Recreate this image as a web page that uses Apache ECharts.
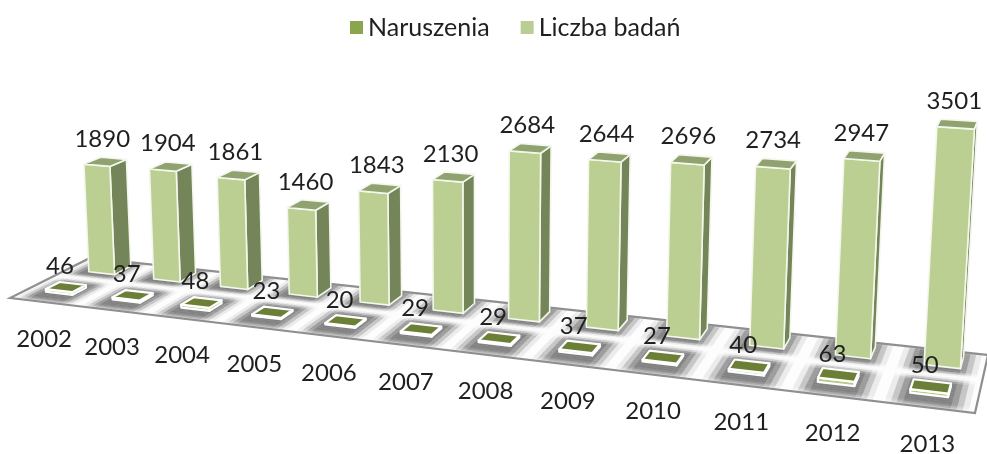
<!DOCTYPE html>
<html>
<head>
<meta charset="utf-8">
<style>
  html, body { margin: 0; padding: 0; background: #fff; }
  #chart { width: 987px; height: 454px; filter: blur(0.4px); }
</style>
</head>
<body>
<div id="chart"></div>
<script src="https://cdn.jsdelivr.net/npm/echarts@6/dist/echarts.min.js"></script>
<script>
const years = ['2002', '2003', '2004', '2005', '2006', '2007', '2008', '2009', '2010', '2011', '2012', '2013']
const naruszenia = [46, 37, 48, 23, 20, 29, 29, 37, 27, 40, 63, 50]
const liczbaBadan = [1890, 1904, 1861, 1460, 1843, 2130, 2684, 2644, 2696, 2734, 2947, 3501]

const W = 987, H = 454
const yMax = 4000
const textColor = '#1f1f1f'
const fontFamily = 'Lato, "Open Sans", sans-serif'

// floor corners on screen: front-left, front-right, back-right, back-left
const FL = [10, 298], FR = [975, 413], BR = [988, 355], BL = [90, 258]
// vanishing point of the vertical edges and how fast the bars come towards the camera
const VV = [476, 8700]
const K = -0.028

// square to quad homography
const dx1 = FR[0] - BR[0], dx2 = BL[0] - BR[0], sx = FL[0] - FR[0] + BR[0] - BL[0]
const dy1 = FR[1] - BR[1], dy2 = BL[1] - BR[1], sy = FL[1] - FR[1] + BR[1] - BL[1]
const den = dx1 * dy2 - dx2 * dy1
const g = (sx * dy2 - dx2 * sy) / den, h = (dx1 * sy - sx * dy1) / den
const a = FR[0] - FL[0] + g * FR[0], b = BL[0] - FL[0] + h * BL[0]
const d = FR[1] - FL[1] + g * FR[1], e = BL[1] - FL[1] + h * BL[1]

// u: category units, t: 0 front .. 1 back, n: 0..1 of the value axis
const project = (u, t, n) => {
  const s = u / years.length
  const q = K * n
  const w = g * s + h * t + 1 + q
  return [
    (a * s + b * t + FL[0] + q * VV[0]) / w,
    (d * s + e * t + FL[1] + q * VV[1]) / w
  ]
}

// reads the position back from the (hidden) axes of the grid
const fromAxes = (api, idx, val) => {
  const c = api.coord([idx, val])
  return { u: c[0] / W * years.length, n: 1 - c[1] / H }
}

const boxItem = (opt) => (params, api) => {
  const idx = api.value(0)
  const val = api.value(1)
  const p = fromAxes(api, idx, val)
  const u0 = p.u + opt.du - opt.width / 2, u1 = p.u + opt.du + opt.width / 2
  const t0 = opt.t0, t1 = opt.t1, n = p.n
  const face = (pts, fill, stroke, lw) => ({
    type: 'polygon',
    shape: { points: pts.map(v => project(v[0], v[1], v[2])) },
    style: { fill: fill, stroke: stroke, lineWidth: lw, lineJoin: 'round' }
  })
  const top = project((u0 + u1) / 2, (t0 + t1) / 2, n)
  return {
    type: 'group',
    children: [
      face([[u1, t0, 0], [u1, t1, 0], [u1, t1, n], [u1, t0, n]], opt.side, opt.line, opt.lineWidth),
      face([[u0, t0, 0], [u1, t0, 0], [u1, t0, n], [u0, t0, n]], opt.front, opt.line, opt.lineWidth),
      face([[u0, t0, n], [u1, t0, n], [u1, t1, n], [u0, t1, n]], opt.top, opt.line, opt.lineWidth),
      {
        type: 'text',
        z2: 10,
        style: {
          text: String(val),
          x: top[0] + opt.labelDx,
          y: top[1] + opt.labelDy,
          fill: textColor,
          fontFamily: fontFamily,
          fontSize: 24,
          align: 'center',
          verticalAlign: 'middle'
        }
      }
    ]
  }
}

const smooth = (lo, hi, x) => {
  const v = Math.min(1, Math.max(0, (x - lo) / (hi - lo)))
  return v * v * (3 - 2 * v)
}

// soft grey patch in every floor cell, white bands where the cells meet
const floorShade = (ls, t) => {
  const inFront = t < 0.55
  const lt = inFront ? t / 0.55 : (t - 0.55) / 0.45
  const ds = Math.min(ls, 1 - ls) * 2
  const dt = inFront ? Math.min(lt * 2 + 0.2, (1 - lt) * 2.4) : Math.min((1 - lt) * 1.6 + 0.4, lt * 2.4)
  return smooth(0.06, 0.6, ds) * smooth(0.04, 0.6, dt)
}

const floorItem = (params, api) => {
  const idx = api.value(0)
  const u = fromAxes(api, idx, 0).u - 0.5
  const children = []
  const nu = 16, nt = 32
  for (let i = 0; i < nu; i++) {
    for (let j = 0; j < nt; j++) {
      const t0 = j / nt, t1 = (j + 1) / nt
      const shade = floorShade((i + 0.5) / nu, (t0 + t1) / 2)
      const v = Math.round(253 - 125 * shade)
      const col = 'rgb(' + v + ',' + v + ',' + v + ')'
      children.push({
        type: 'polygon',
        shape: {
          points: [
            project(u + i / nu, t0, 0), project(u + (i + 1) / nu, t0, 0),
            project(u + (i + 1) / nu, t1, 0), project(u + i / nu, t1, 0)
          ]
        },
        style: { fill: col, stroke: col, lineWidth: 0.5 }
      })
    }
  }
  const edge = project(u + 0.5, 0, 0)
  children.push({
    type: 'text',
    z2: 10,
    style: {
      text: years[idx],
      x: edge[0] + 1,
      y: edge[1] + 37,
      fill: textColor,
      fontFamily: fontFamily,
      fontSize: 24,
      align: 'center',
      verticalAlign: 'middle'
    }
  })
  return { type: 'group', children: children }
}

const floorEdge = (params, api) => {
  if (api.value(0) !== 0) return null
  const o = fromAxes(api, 0, 0)
  const n = years.length
  const u0 = o.u - 0.5
  return {
    type: 'polygon',
    shape: { points: [project(u0, 0, 0), project(u0 + n, 0, 0), project(u0 + n, 1, 0), project(u0, 1, 0)] },
    style: { fill: 'none', stroke: '#8f8f8f', lineWidth: 2.2 }
  }
}

const chart = echarts.init(document.getElementById('chart'))
chart.setOption({
  animation: false,
  legend: {
    data: ['Naruszenia', 'Liczba badań'],
    top: 10,
    left: 345,
    icon: 'rect',
    itemWidth: 13,
    itemHeight: 13,
    itemGap: 31,
    textStyle: { fontFamily: fontFamily, fontSize: 25, color: textColor }
  },
  grid: { left: 0, right: 0, top: 0, bottom: 0 },
  xAxis: { type: 'category', data: years, show: false },
  yAxis: { type: 'value', min: 0, max: yMax, show: false },
  series: [
    {
      name: 'podloga',
      type: 'custom',
      z: 1,
      clip: false,
      silent: true,
      encode: { x: 0, y: 1 },
      data: years.map((y, i) => [i, 0]),
      renderItem: floorItem
    },
    {
      name: 'krawedz',
      type: 'custom',
      z: 2,
      clip: false,
      silent: true,
      encode: { x: 0, y: 1 },
      data: years.map((y, i) => [i, 0]),
      renderItem: floorEdge
    },
    {
      name: 'Liczba badań',
      type: 'custom',
      z: 3,
      clip: false,
      itemStyle: { color: '#bacd95' },
      encode: { x: 0, y: 1 },
      data: liczbaBadan.map((v, i) => [i, v]),
      renderItem: boxItem({
        du: 0.04, width: 0.4, t0: 0.7, t1: 0.92,
        front: '#bccf93', side: '#748659', top: '#8fa26f',
        line: '#f4f7ec', lineWidth: 1.6,
        labelDx: -3, labelDy: -23
      })
    },
    {
      name: 'Naruszenia',
      type: 'custom',
      z: 4,
      clip: false,
      itemStyle: { color: '#8ba54f' },
      encode: { x: 0, y: 1 },
      data: naruszenia.map((v, i) => [i, v]),
      renderItem: boxItem({
        du: -0.01, width: 0.4, t0: 0.2, t1: 0.37,
        front: '#b5cc84', side: '#6d7f3c', top: '#6b7f36',
        line: '#ffffff', lineWidth: 2.2,
        labelDx: -6, labelDy: -21
      })
    }
  ]
})
</script>
</body>
</html>
